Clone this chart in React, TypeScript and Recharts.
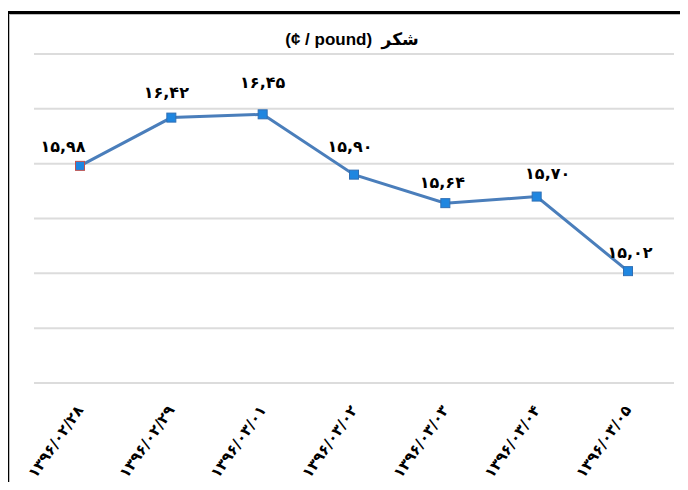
import React from "react";
import { LineChart, Line, XAxis, YAxis, CartesianGrid, LabelList } from "recharts";

const categories = [
  "۱۳۹۶/۰۲/۲۸",
  "۱۳۹۶/۰۲/۲۹",
  "۱۳۹۶/۰۳/۰۱",
  "۱۳۹۶/۰۳/۰۲",
  "۱۳۹۶/۰۳/۰۳",
  "۱۳۹۶/۰۳/۰۴",
  "۱۳۹۶/۰۳/۰۵",
];
const prices = [15.98, 16.42, 16.45, 15.9, 15.64, 15.7, 15.02];
const yTicks = [14, 14.5, 15, 15.5, 16, 16.5, 17];
const title = "(¢ / pound)  شکر";

// label offsets (dx, dy) relative to the point, as placed in the original
const labelOffsets: [number, number][] = [
  [-17, -20],
  [-5, -26],
  [0, -32],
  [-4, -29],
  [-3, -21],
  [11, -24],
  [2, -19],
];

const data = categories.map((c, i) => ({ date: c, price: prices[i] }));

const faDigits = "۰۱۲۳۴۵۶۷۸۹";
const toFa = (v: number) =>
  v
    .toFixed(2)
    .replace(".", ",")
    .replace(/[0-9]/g, (d) => faDigits[Number(d)]);

const Tick = (props: any) => {
  const { x, y, payload } = props;
  const ax = x + 4;
  const ay = y + 27;
  return (
    <text
      x={ax}
      y={ay}
      textAnchor="end"
      transform={`rotate(-55, ${ax}, ${ay})`}
      fontFamily="DejaVu Sans"
      fontWeight="bold"
      fontSize={15}
      letterSpacing={-0.5}
      fill="#000"
    >
      {payload.value}
    </text>
  );
};

const Dot = (props: any) => {
  const { cx, cy, index } = props;
  const s = 9;
  return (
    <rect
      key={`d${index}`}
      x={cx - s / 2}
      y={cy - s / 2}
      width={s}
      height={s}
      fill="#1f86e0"
      stroke={index === 0 ? "#c0504d" : "#2f6fb5"}
      strokeWidth={1}
    />
  );
};

const Label = (props: any) => {
  const { x, y, value, index } = props;
  const [dx, dy] = labelOffsets[index] || [0, -24];
  return (
    <text
      x={x + dx}
      y={y + dy + 6}
      textAnchor="middle"
      fontFamily="DejaVu Sans"
      fontWeight="bold"
      fontSize={16}
      letterSpacing={-0.8}
      fill="#000"
    >
      {toFa(value)}
    </text>
  );
};

export default function App() {
  return (
    <div
      style={{
        position: "relative",
        width: 688,
        height: 490,
        margin: -8,
        overflow: "hidden",
        background: "#fff",
      }}
    >
      <div
        style={{
          position: "absolute",
          left: 6,
          top: 11,
          width: 720,
          height: 520,
          borderLeft: "3px solid #000",
          borderTop: "3px solid #000",
          boxShadow: "inset 1px 1px 0 #bdbdbd",
        }}
      />
      <div
        style={{
          position: "absolute",
          left: 0,
          top: 30,
          width: 704,
          textAlign: "center",
          fontFamily: "'Liberation Sans', 'DejaVu Sans'",
          fontWeight: "bold",
          fontSize: 17,
          lineHeight: "20px",
          whiteSpace: "pre",
          color: "#000",
        }}
      >
        {title}
      </div>
      <div style={{ position: "absolute", left: 0, top: 0 }}>
        <LineChart
          width={688}
          height={490}
          data={data}
          margin={{ top: 54, right: 14, left: 34, bottom: 0 }}
        >
          <CartesianGrid
            vertical={false}
            stroke="#dcdcdc"
            strokeWidth={2}
          />
          <XAxis
            dataKey="date"
            axisLine={false}
            tickLine={false}
            tickSize={0}
            tickMargin={0}
            height={107}
            interval={0}
            padding={{ left: 46, right: 46 }}
            tick={<Tick />}
          />
          <YAxis hide domain={[14, 17]} ticks={yTicks} width={0} />
          <Line
            type="linear"
            dataKey="price"
            stroke="#4a7ebb"
            strokeWidth={3}
            dot={<Dot />}
            activeDot={false}
            isAnimationActive={false}
          >
            <LabelList dataKey="price" content={<Label />} />
          </Line>
        </LineChart>
      </div>
    </div>
  );
}
